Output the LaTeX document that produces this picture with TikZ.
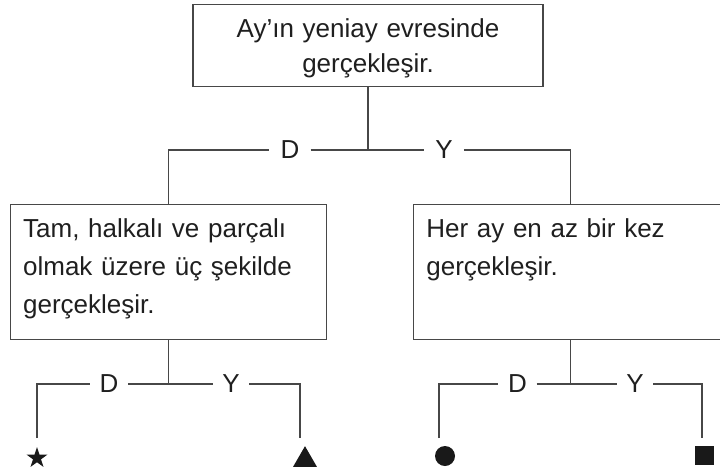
\documentclass[tikz,border=0pt]{standalone}
\usepackage{fontspec}
\setmainfont{Liberation Sans}
\usetikzlibrary{shapes.geometric}

\begin{document}
\begin{tikzpicture}[x=1pt,y=-1pt,line width=1.3pt,color=black!72,
    every node/.style={font=\fontsize{26}{38}\selectfont,text=black!88},
    kutu/.style={draw,inner xsep=13pt,inner ysep=0pt,text height=33pt,text depth=102pt,align=left,anchor=north west},
    cevap/.style={inner xsep=9pt,inner ysep=2pt},
    isaret/.style={fill=black!90,inner sep=0pt}]
  \useasboundingbox (0,0) rectangle (720,467);
  \node[draw,inner sep=0pt,text width=350pt,align=center,text height=33pt,text depth=49pt,anchor=north,
    font=\fontsize{26}{35}\selectfont] (ay) at (368,4) {Ay’ın yeniay evresinde\\gerçekleşir.};
  \node[kutu,text width=290pt] (tam) at (9.5,204) {Tam, halkalı ve parçalı\\olmak üzere üç şekilde\\gerçekleşir.};
  \node[kutu,text width=288.6pt] (her) at (412.7,204) {Her ay en az bir kez\\gerçekleşir.};

  \node[cevap,inner xsep=10.5pt] (d1) at (290,150) {D};
  \node[cevap,inner xsep=10.5pt] (y1) at (444,150) {Y};
  \draw (ay.south) -- (ay.south |- d1);
  \draw (tam.north) |- (d1) -- (y1) -| (her.north);

  \node[cevap] (d2) at (109,384) {D};
  \node[cevap] (y2) at (231,384) {Y};
  \coordinate (u1) at (37,438);
  \coordinate (u2) at (300,438);
  \draw (tam.south) -- (tam.south |- d2);
  \draw (u1) |- (d2) -- (y2) -| (u2);

  \node[cevap] (d3) at (517.5,384) {D};
  \node[cevap] (y3) at (635,384) {Y};
  \coordinate (u3) at (439,438);
  \coordinate (u4) at (702,438);
  \draw (her.south) -- (her.south |- d3);
  \draw (u3) |- (d3) -- (y3) -| (u4);

  \node[isaret,star,star points=5,star point ratio=2.6,minimum size=22pt] (yildiz) at (37,458) {};
  \node[isaret,regular polygon,regular polygon sides=3,minimum size=27.7pt] (ucgen) at (305,460) {};
  \node[isaret,circle,minimum size=20pt] (daire) at (445,456) {};
  \node[isaret,minimum size=19.5pt] (kare) at (704.5,455.5) {};
\end{tikzpicture}
\end{document}
